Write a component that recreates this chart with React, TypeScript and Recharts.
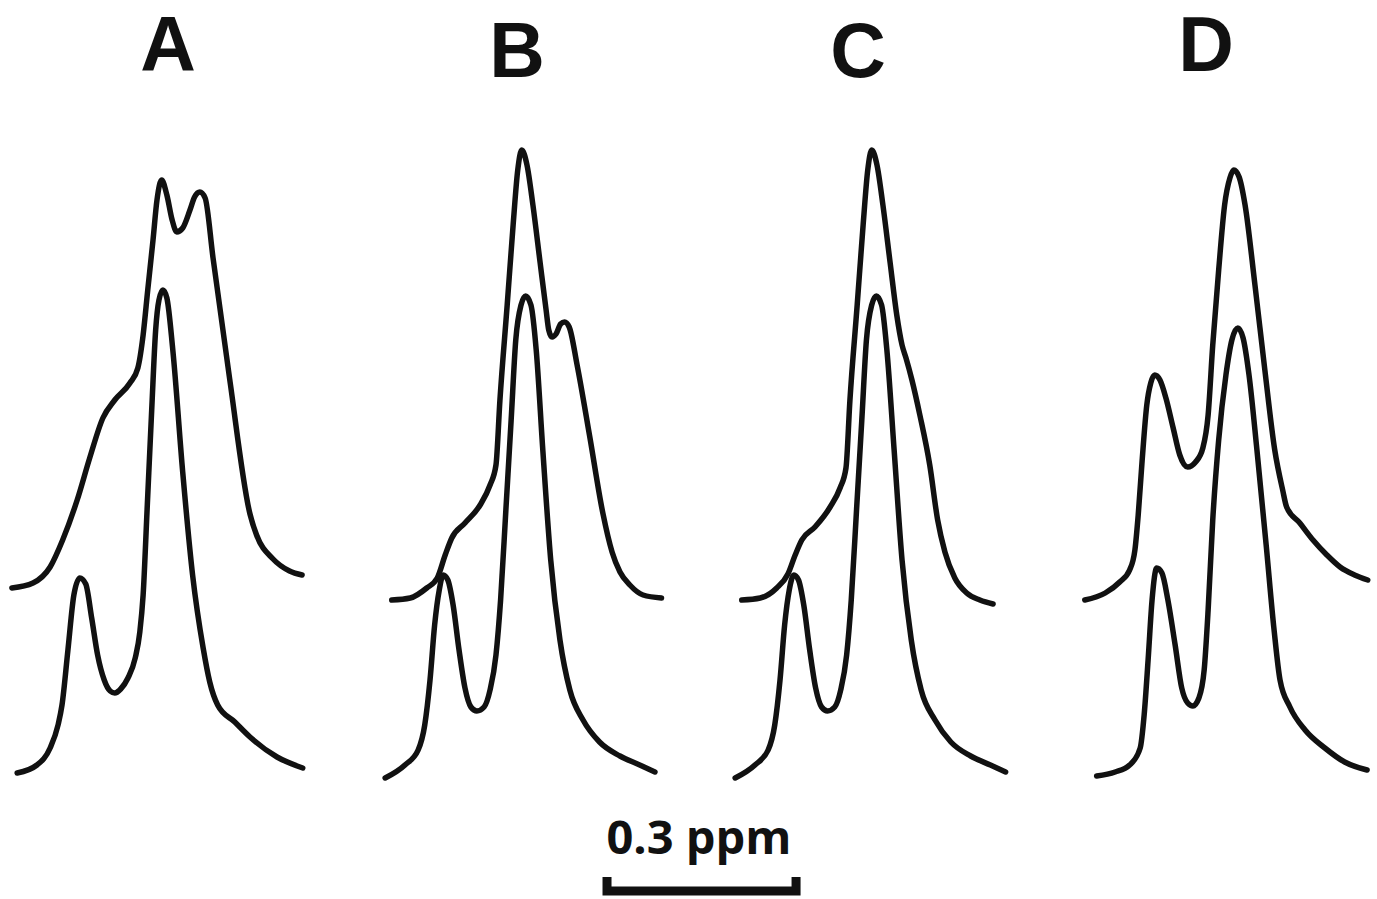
import React from 'react';
import { LineChart, Line, XAxis, YAxis } from 'recharts';

// shift in ppm from the left edge of each panel, intensity in arbitrary units
interface Pt {
  x: number;
  y: number;
}

const toPts = (rows: number[][]): Pt[] => rows.map(([x, y]) => ({ x, y }));

const panelLabels = ['A', 'B', 'C', 'D'];

const upperA = toPts([
  [0.018, 212], [0.05, 217], [0.076, 233], [0.095, 260], [0.117, 300], [0.136, 342],
  [0.156, 382], [0.174, 400], [0.197, 417], [0.209, 432], [0.217, 465], [0.224, 510],
  [0.232, 560], [0.238, 600], [0.245, 620], [0.253, 605], [0.261, 580], [0.268, 568],
  [0.277, 572], [0.288, 590], [0.295, 603], [0.303, 608], [0.311, 602], [0.323, 542],
  [0.348, 422], [0.379, 286], [0.389, 265], [0.414, 241], [0.439, 229], [0.458, 225],
]);

const lowerA = toPts([
  [0.026, 27], [0.056, 35], [0.076, 52], [0.088, 75], [0.094, 95], [0.103, 150],
  [0.112, 205], [0.121, 222], [0.13, 216], [0.139, 182], [0.148, 145], [0.158, 120],
  [0.167, 109], [0.174, 107], [0.183, 111], [0.194, 122], [0.205, 142], [0.212, 168],
  [0.217, 205], [0.223, 290], [0.23, 390], [0.236, 470], [0.241, 500], [0.247, 510],
  [0.253, 502], [0.262, 450], [0.277, 328], [0.292, 225], [0.308, 152], [0.318, 118],
  [0.33, 95], [0.356, 78], [0.379, 63], [0.42, 43], [0.459, 32],
]);

const upperB = toPts([
  [0.033, 200], [0.061, 202], [0.086, 212], [0.102, 222], [0.114, 245], [0.124, 262],
  [0.144, 277], [0.167, 295], [0.182, 315], [0.191, 335], [0.197, 400], [0.208, 495],
  [0.217, 575], [0.224, 630], [0.23, 650], [0.238, 635], [0.247, 595], [0.258, 537],
  [0.267, 490], [0.271, 470], [0.276, 463], [0.282, 466], [0.289, 476], [0.295, 478],
  [0.302, 473], [0.314, 435], [0.333, 364], [0.353, 287], [0.367, 248], [0.379, 228],
  [0.394, 215], [0.414, 205], [0.442, 202],
]);

const lowerB = toPts([
  [0.023, 22], [0.053, 35], [0.073, 50], [0.083, 75], [0.091, 120], [0.098, 175],
  [0.105, 210], [0.111, 225], [0.118, 220], [0.126, 195], [0.135, 150], [0.144, 112],
  [0.153, 93], [0.162, 89], [0.173, 93], [0.182, 110], [0.191, 145], [0.198, 200],
  [0.206, 290], [0.214, 380], [0.221, 460], [0.229, 495], [0.236, 504], [0.244, 495],
  [0.252, 450], [0.262, 350], [0.274, 240], [0.288, 160], [0.303, 110], [0.323, 80],
  [0.348, 58], [0.379, 44], [0.409, 35], [0.432, 28],
]);

const upperC = toPts([
  [0.033, 200], [0.061, 202], [0.086, 212], [0.103, 226], [0.114, 245], [0.124, 260],
  [0.144, 273], [0.167, 293], [0.182, 312], [0.191, 332], [0.197, 400], [0.208, 495],
  [0.217, 575], [0.224, 630], [0.23, 650], [0.238, 635], [0.247, 595], [0.258, 537],
  [0.268, 485], [0.276, 455], [0.282, 442], [0.291, 420], [0.303, 385], [0.318, 335],
  [0.33, 280], [0.341, 248], [0.356, 222], [0.374, 207], [0.394, 200], [0.414, 196],
]);

const lowerC = toPts([
  [0.023, 22], [0.053, 35], [0.073, 50], [0.083, 75], [0.091, 120], [0.098, 175],
  [0.105, 210], [0.112, 225], [0.119, 220], [0.127, 195], [0.136, 150], [0.145, 112],
  [0.154, 93], [0.163, 89], [0.174, 93], [0.183, 110], [0.192, 145], [0.199, 200],
  [0.207, 290], [0.215, 380], [0.222, 460], [0.23, 495], [0.237, 504], [0.245, 495],
  [0.253, 450], [0.264, 350], [0.276, 240], [0.29, 160], [0.305, 110], [0.326, 80],
  [0.35, 58], [0.38, 44], [0.41, 35], [0.433, 28],
]);

const upperD = toPts([
  [0.03, 200], [0.061, 207], [0.083, 218], [0.098, 230], [0.106, 250], [0.111, 285],
  [0.117, 340], [0.124, 395], [0.13, 417], [0.136, 425], [0.144, 420], [0.153, 402],
  [0.164, 372], [0.174, 345], [0.186, 333], [0.198, 338], [0.209, 352], [0.217, 385],
  [0.224, 455], [0.233, 530], [0.242, 595], [0.25, 622], [0.256, 630], [0.264, 623],
  [0.273, 595], [0.288, 515], [0.303, 430], [0.318, 350], [0.33, 310], [0.336, 293],
  [0.356, 277], [0.376, 260], [0.397, 245], [0.417, 233], [0.439, 225], [0.459, 220],
]);

const lowerD = toPts([
  [0.048, 24], [0.076, 28], [0.098, 35], [0.114, 52], [0.12, 85], [0.126, 140],
  [0.132, 200], [0.139, 232], [0.147, 227], [0.156, 200], [0.167, 155], [0.177, 112],
  [0.186, 97], [0.194, 94], [0.203, 102], [0.211, 130], [0.217, 190], [0.224, 280],
  [0.233, 360], [0.244, 425], [0.253, 460], [0.262, 472], [0.27, 462], [0.279, 425],
  [0.291, 350], [0.305, 255], [0.317, 170], [0.326, 120], [0.341, 93], [0.364, 70],
  [0.394, 52], [0.424, 38], [0.458, 30],
]);

// 0.3 ppm scale bar (shift, bracket height)
const scaleBar = toPts([[0, 1], [0, 0], [0.3, 0], [0.3, 1]]);
const scaleLabel = '0.3 ppm';

const panels = [
  { label: panelLabels[0], upper: upperA, lower: lowerA, left: 0, titleX: 168, titleTop: 6 },
  { label: panelLabels[1], upper: upperB, lower: lowerB, left: 370, titleX: 517, titleTop: 12 },
  { label: panelLabels[2], upper: upperC, lower: lowerC, left: 720, titleX: 858, titleTop: 12 },
  { label: panelLabels[3], upper: upperD, lower: lowerD, left: 1065, titleX: 1206, titleTop: 6 },
];

const INK = '#111';
const FONT = '"Open Sans", "DejaVu Sans", sans-serif';
const TITLE_FONT = '"Liberation Sans", Arial, sans-serif';

const Spectrum: React.FC<{ upper: Pt[]; lower: Pt[] }> = ({ upper, lower }) => (
  <LineChart width={310} height={680} margin={{ top: 0, right: 0, bottom: 0, left: 0 }}>
    <XAxis type="number" dataKey="x" domain={[0, 0.47]} hide allowDataOverflow />
    <YAxis type="number" dataKey="y" domain={[0, 680]} hide allowDataOverflow />
    {[upper, lower].map((d, i) => (
      <Line
        key={i}
        data={d}
        dataKey="y"
        type="monotone"
        stroke={INK}
        strokeWidth={5.5}
        strokeLinecap="round"
        strokeLinejoin="round"
        dot={false}
        activeDot={false}
        isAnimationActive={false}
      />
    ))}
  </LineChart>
);

export default function App() {
  return (
    <div
      style={{
        position: 'absolute',
        left: 0,
        top: 0,
        width: 1377,
        height: 899,
        background: '#fff',
        overflow: 'hidden',
        fontFamily: FONT,
      }}
    >
      {panels.map((p) => (
        <React.Fragment key={p.label}>
          <div
            style={{
              position: 'absolute',
              left: p.titleX - 60,
              top: p.titleTop,
              width: 120,
              textAlign: 'center',
              fontFamily: TITLE_FONT,
              fontSize: 77,
              lineHeight: 1,
              fontWeight: 700,
              color: INK,
            }}
          >
            {p.label}
          </div>
          <div style={{ position: 'absolute', left: p.left, top: 120 }}>
            <Spectrum upper={p.upper} lower={p.lower} />
          </div>
        </React.Fragment>
      ))}

      <div
        style={{
          position: 'absolute',
          left: 599,
          top: 813,
          width: 200,
          textAlign: 'center',
          fontSize: 47,
          lineHeight: 1,
          fontWeight: 700,
          color: INK,
          whiteSpace: 'nowrap',
        }}
      >
        {scaleLabel}
      </div>
      <div style={{ position: 'absolute', left: 590, top: 870 }}>
        <LineChart width={230} height={29} margin={{ top: 0, right: 0, bottom: 0, left: 0 }}>
          <XAxis type="number" dataKey="x" domain={[-0.027, 0.338]} hide allowDataOverflow />
          <YAxis type="number" dataKey="y" domain={[-0.57, 1.5]} hide allowDataOverflow />
          <Line
            data={scaleBar}
            dataKey="y"
            type="linear"
            stroke={INK}
            strokeWidth={9}
            strokeLinecap="butt"
            strokeLinejoin="miter"
            dot={false}
            activeDot={false}
            isAnimationActive={false}
          />
        </LineChart>
      </div>
    </div>
  );
}
